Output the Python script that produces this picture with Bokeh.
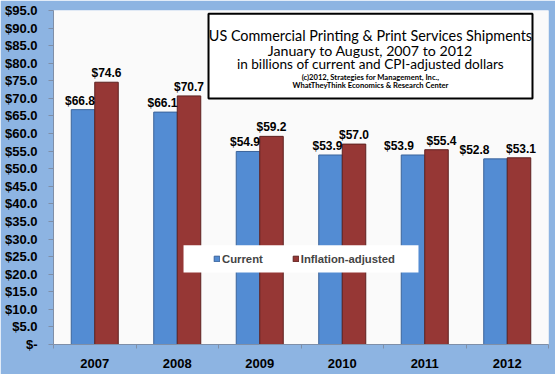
from bokeh.plotting import figure
from bokeh.models import (ColumnDataSource, Range1d, FixedTicker, NumeralTickFormatter,
                          Legend, LegendItem)
from bokeh.core.properties import value
from bokeh.embed import file_html
from bokeh.resources import INLINE

# ---- data ----
years = ["2007", "2008", "2009", "2010", "2011", "2012"]
current = [66.8, 66.1, 54.9, 53.9, 53.9, 52.8]
adjusted = [74.6, 70.7, 59.2, 57.0, 55.4, 53.1]
y_ticks = list(range(0, 100, 5))
title_lines = [
    "US Commercial Printing & Print Services Shipments",
    "January to August, 2007 to 2012",
    "in billions of current and CPI-adjusted dollars",
    "(c)2012, Strategies for Management, Inc.,",
    "WhatTheyThink Economics & Research Center",
]
series_names = ["Current", "Inflation-adjusted"]

# ---- styling ----
BG = "#8DB4E2"
PLOT_BG = "#FAFAFA"
BLUE = "#538CD3"
BLUE_EDGE = "#3B639A"
RED = "#963735"
RED_EDGE = "#5E2220"
AXIS = "#7F8FA8"
FONT = "Liberation Sans"
TFONT = "Lato"

p = figure(width=555, height=374, output_backend="svg", toolbar_location=None,
           x_range=Range1d(0, 6), y_range=Range1d(0, 95),
           min_border_left=53, min_border_right=7, min_border_top=10, min_border_bottom=30)
p.background_fill_color = PLOT_BG
p.border_fill_color = BG
p.outline_line_color = None
p.grid.grid_line_color = None

bw = 0.285
n = len(years)
xc = [i + 0.5 for i in range(n)]
px_per_unit = 334 / 95.0

# label nudges to avoid overlap (rule-based)
b_off, r_off = [], []
for c, a in zip(current, adjusted):
    sep = (a - c) * px_per_unit
    if sep < 3:
        b_off.append(-21)
        r_off.append(2)
    elif sep < 10:
        b_off.append(-14)
        r_off.append(5)
    else:
        b_off.append(-3)
        r_off.append(0)

src_b = ColumnDataSource(dict(x=[x - bw / 2 for x in xc], top=current,
                              lab=["$%.1f" % v for v in current], xo=b_off))
src_r = ColumnDataSource(dict(x=[x + bw / 2 for x in xc], top=adjusted,
                              lab=["$%.1f" % v for v in adjusted], xo=r_off))

rb = p.vbar(x="x", top="top", width=bw, source=src_b, fill_color=BLUE, line_color=BLUE_EDGE, line_width=1)
rr = p.vbar(x="x", top="top", width=bw, source=src_r, fill_color=RED, line_color=RED_EDGE, line_width=1)

for src in (src_b, src_r):
    p.text(x="x", y="top", text="lab", source=src, x_offset="xo", y_offset=-2,
           text_font=value(FONT), text_font_style="bold", text_font_size="12px",
           text_align="center", text_baseline="bottom", text_color="black")

# ---- title box (glyphs so text sits on top) ----
p.quad(left=[1.879], right=[5.806], bottom=[69.97], top=[94.1],
       fill_color="white", line_color="black", line_width=2)
cx = 3.842
tys = [87.9, 83.6, 79.9, 76.2, 73.8]
tsz = ["14.4px", "14.2px", "13.6px", "7.6px", "7.6px"]
tst = ["normal", "normal", "normal", "bold", "bold"]
for line, ty, sz, st in zip(title_lines, tys, tsz, tst):
    p.text(x=[cx], y=[ty], text=[line], text_font=value(TFONT), text_font_size=sz,
           text_font_style=st, text_align="center", text_baseline="middle", text_color="black")

# ---- legend background ----
p.quad(left=[1.576], right=[4.424], bottom=[20.5], top=[28.2],
       fill_color="white", line_color=None)

# ---- axes ----
xa = p.xaxis[0]
xa.ticker = FixedTicker(ticks=xc, minor_ticks=list(range(0, n + 1)))
xa.major_label_overrides = {x: y for x, y in zip(xc, years)}
xa.major_tick_line_color = None
xa.major_tick_in = 0
xa.major_tick_out = 0
xa.minor_tick_in = 0
xa.minor_tick_out = 4
xa.minor_tick_line_color = AXIS
xa.axis_line_color = AXIS
xa.major_label_standoff = 10
xa.major_label_text_font = FONT
xa.major_label_text_font_style = "bold"
xa.major_label_text_font_size = "13px"
xa.major_label_text_color = "black"

ya = p.yaxis[0]
ya.ticker = FixedTicker(ticks=y_ticks, minor_ticks=[])
ya.formatter = NumeralTickFormatter(format="$0.0")
ya.major_label_overrides = {0: "$-"}
ya.major_tick_in = 0
ya.major_tick_out = 5
ya.major_tick_line_color = AXIS
ya.axis_line_color = AXIS
ya.major_label_standoff = 11
ya.major_label_text_font = FONT
ya.major_label_text_font_style = "bold"
ya.major_label_text_font_size = "13px"
ya.major_label_text_color = "black"

# ---- legend ----
legend = Legend(items=[LegendItem(label=series_names[0], renderers=[rb]),
                       LegendItem(label=series_names[1], renderers=[rr])],
                orientation="horizontal", location=(160, 79),
                glyph_width=7, glyph_height=7, label_standoff=2, spacing=29,
                padding=0, margin=0, background_fill_alpha=0, border_line_color=None,
                label_text_font=FONT, label_text_font_style="bold", label_text_font_size="11.3px",
                label_height=13)
p.add_layout(legend, "center")

open("out.html", "w").write(file_html(p, INLINE))
